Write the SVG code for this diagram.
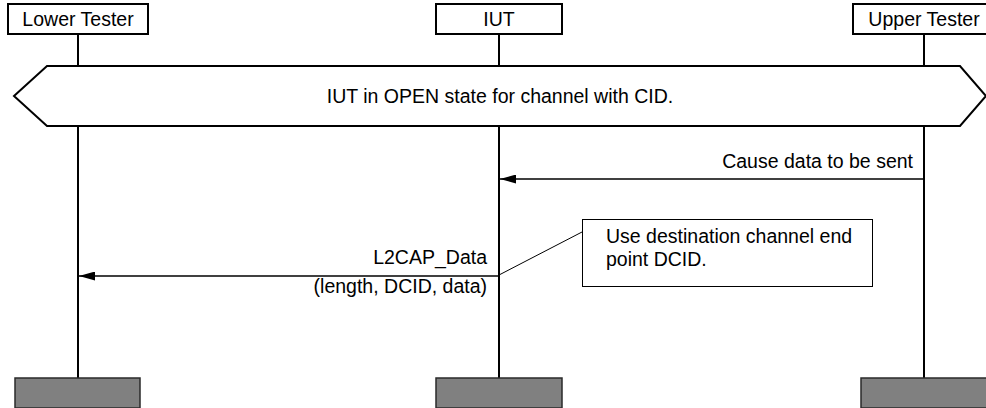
<svg xmlns="http://www.w3.org/2000/svg" width="986" height="408" viewBox="0 0 986 408">
<defs>
<style>
text{font-family:"Liberation Sans",Arial,sans-serif;font-size:19.5px;fill:#000}
.hdr{fill:#fff;stroke:#000;stroke-width:2}
.foot{fill:#808080;stroke:#2a2a2a;stroke-width:1.5}
.life{stroke:#000;stroke-width:2;fill:none}
.msg{stroke:#000;stroke-width:1.3;fill:none;marker-end:url(#ah)}
.note{fill:#fff;stroke:#000;stroke-width:1}
</style>
<marker id="ah" viewBox="0 0 16 9" refX="16" refY="4.5" markerWidth="16" markerHeight="9" markerUnits="userSpaceOnUse" orient="auto">
<path d="M0,0 L16,4.5 L0,9 Z" fill="#000"/>
</marker>
</defs>
<rect width="986" height="408" fill="#fff"/>
<g id="lifelines">
<path class="life" d="M78,34 V66 M78,126 V378"/>
<path class="life" d="M499,34 V66 M499,126 V378"/>
<path class="life" d="M924,34 V66 M924,126 V378"/>
</g>
<g id="lower-tester">
<rect class="hdr" x="8" y="4" width="140" height="30"/>
<text x="78" y="26" text-anchor="middle">Lower Tester</text>
<rect class="foot" x="15" y="378" width="125" height="30"/>
</g>
<g id="iut">
<rect class="hdr" x="436" y="4" width="126" height="30"/>
<text x="499" y="26" text-anchor="middle">IUT</text>
<rect class="foot" x="436" y="378" width="126" height="30"/>
</g>
<g id="upper-tester">
<rect class="hdr" x="853" y="4" width="142" height="30"/>
<text x="924" y="26" text-anchor="middle">Upper Tester</text>
<rect class="foot" x="861" y="378" width="130" height="30"/>
</g>
<g id="state">
<polygon class="hdr" points="14,96 47,66 960,66 986,96 960,126 47,126"/>
<text x="500" y="103" text-anchor="middle">IUT in OPEN state for channel with CID.</text>
</g>
<g id="connectors">
<line class="msg" x1="924" y1="179" x2="500" y2="179"/>
<text x="913" y="168" text-anchor="end">Cause data to be sent</text>
<line class="msg" x1="499" y1="276" x2="79" y2="276"/>
<text x="487" y="264" text-anchor="end">L2CAP_Data</text>
<text x="487" y="293" text-anchor="end">(length, DCID, data)</text>
<line x1="582" y1="232" x2="499" y2="275" stroke="#000" stroke-width="1"/>
</g>
<g id="note">
<rect class="note" x="582.5" y="219.5" width="290" height="67"/>
<text x="606" y="243">Use destination channel end</text>
<text x="606" y="266">point DCID.</text>
</g>
</svg>
